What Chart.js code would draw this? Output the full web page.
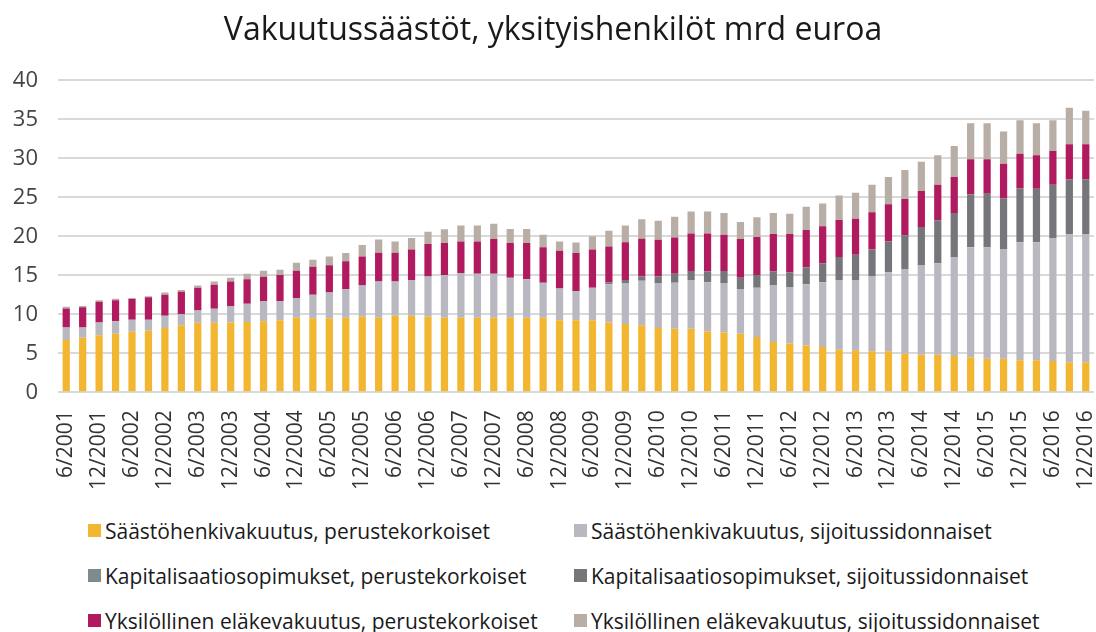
<!DOCTYPE html>
<html>
<head>
<meta charset="utf-8">
<script src="https://cdn.jsdelivr.net/npm/chart.js@4"></script>
<style>
body{margin:0;background:#fff;font-family:"Open Sans",sans-serif;}
#wrap{position:relative;width:1096px;height:632px;}
#chart-box{position:absolute;left:0;top:0;width:1096px;height:508px;}
#legend{position:absolute;left:88px;top:508px;display:grid;grid-template-columns:486px 500px;row-gap:0;}
#legend .item{display:flex;align-items:center;height:45px;font-size:21px;color:#1a1a1a;white-space:nowrap;}
#legend .sw{width:13px;height:13px;margin-right:4px;flex:none;}
</style>
</head>
<body>
<div id="wrap">
  <div id="chart-box"><canvas id="savings-chart"></canvas></div>
  <div id="legend"></div>
</div>
<script>
const quarters=['6/2001','9/2001','12/2001',
 '3/2002','6/2002','9/2002','12/2002','3/2003','6/2003','9/2003','12/2003',
 '3/2004','6/2004','9/2004','12/2004','3/2005','6/2005','9/2005','12/2005',
 '3/2006','6/2006','9/2006','12/2006','3/2007','6/2007','9/2007','12/2007',
 '3/2008','6/2008','9/2008','12/2008','3/2009','6/2009','9/2009','12/2009',
 '3/2010','6/2010','9/2010','12/2010','3/2011','6/2011','9/2011','12/2011',
 '3/2012','6/2012','9/2012','12/2012','3/2013','6/2013','9/2013','12/2013',
 '3/2014','6/2014','9/2014','12/2014','3/2015','6/2015','9/2015','12/2015',
 '3/2016','6/2016','9/2016','12/2016'];
const yTicks=[0,5,10,15,20,25,30,35,40];

const shPerus=[6.7,7.0,7.3,7.5,7.75,7.9,8.25,8.6,8.9,8.9,8.95,9.0,9.1,9.25,9.55,9.5,9.5,9.55,9.7,9.55,9.8,
 9.8,9.7,9.55,9.55,9.55,9.55,9.55,9.55,9.55,9.25,9.25,9.25,8.95,8.75,8.6,8.25,8.15,8.15,7.8,7.65,7.5,
 7.1,6.45,6.25,6.0,5.8,5.45,5.4,5.25,5.25,4.95,4.8,4.8,4.65,4.5,4.3,4.3,4.1,4.1,4.0,3.85,3.85];
const shSij=[1.6,1.3,1.65,1.6,1.55,1.4,1.55,1.4,1.6,1.8,2.1,2.35,2.6,2.45,2.55,3.0,3.3,3.65,4.0,4.65,4.4,
 4.6,5.15,5.5,5.75,5.65,5.65,5.15,4.95,4.5,4.05,3.75,4.15,4.9,5.25,5.7,5.75,5.9,6.25,6.3,6.35,5.75,
 6.3,7.25,7.2,7.85,8.3,8.95,9.0,9.65,10.15,10.85,11.45,11.75,12.65,14.1,14.3,14.0,15.15,15.15,15.8,16.45,16.45];
const kapPerus=[0,0,0,0,0,0,0,0,0,0,0,0,0,0,0,0,0,0,0,0,0,
 0,0,0,0,0,0,0,0,0,0,0,0,0,0,0,0,0,0,0,0,0,
 0,0,0,0,0,0,0,0,0,0,0,0,0,0,0,0,0,0,0,0,0];
const kapSij=[0,0,0,0,0,0,0,0,0,0,0,0,0,0,0,0,0,0,0,0,0,
 0,0,0,0,0,0,0,0,0,0,0,0,0.25,0.4,0.55,0.85,1.15,1.15,1.4,1.55,1.45,
 1.65,1.8,1.9,2.15,2.45,2.95,3.25,3.45,3.95,4.3,4.95,5.5,5.7,6.8,6.85,6.55,6.9,6.85,6.8,7.0,7.0];
const yksPerus=[2.45,2.6,2.65,2.7,2.65,2.9,2.7,2.9,2.9,3.1,3.15,3.15,3.1,3.35,3.5,3.6,3.5,3.6,3.7,3.7,3.7,
 3.9,4.15,4.1,4.05,4.15,4.45,4.45,4.65,4.55,4.85,4.85,4.9,4.6,4.85,4.85,4.7,4.65,4.8,4.85,4.65,4.95,
 4.85,4.8,4.95,4.8,4.75,4.75,4.6,4.75,4.75,4.7,4.6,4.55,4.6,4.5,4.45,4.45,4.45,4.3,4.35,4.5,4.5];
const yksSij=[0.22,0.15,0.2,0.2,0.15,0.1,0.3,0.2,0.3,0.4,0.5,0.7,0.8,0.65,1.0,0.9,1.1,1.05,1.5,1.7,1.45,
 1.5,1.6,1.75,2.05,2.05,1.95,1.8,1.8,1.6,1.2,1.35,1.7,2.0,2.15,2.5,2.45,2.65,2.85,2.85,2.8,2.2,
 2.55,2.7,2.6,3.0,2.9,3.15,3.35,3.5,3.5,3.7,3.75,3.8,4.0,4.6,4.6,4.15,4.3,4.1,3.95,4.7,4.3];

const series=[
  {label:'Säästöhenkivakuutus, perustekorkoiset',data:shPerus,color:'#f3b630'},
  {label:'Säästöhenkivakuutus, sijoitussidonnaiset',data:shSij,color:'#b9b8c1'},
  {label:'Kapitalisaatiosopimukset, perustekorkoiset',data:kapPerus,color:'#7d8b8c'},
  {label:'Kapitalisaatiosopimukset, sijoitussidonnaiset',data:kapSij,color:'#76767a'},
  {label:'Yksilöllinen eläkevakuutus, perustekorkoiset',data:yksPerus,color:'#b01a5e'},
  {label:'Yksilöllinen eläkevakuutus, sijoitussidonnaiset',data:yksSij,color:'#b8aea6'}
];

const font='"Open Sans", sans-serif';
const noPad=s=>{s.paddingLeft=0;s.paddingRight=0;};
const ctx=document.getElementById('savings-chart').getContext('2d');
new Chart(ctx,{
  type:'bar',
  data:{labels:quarters,datasets:series.map(s=>({label:s.label,data:s.data,backgroundColor:s.color,borderWidth:0,barPercentage:0.44,categoryPercentage:1}))},
  options:{
    responsive:true,maintainAspectRatio:false,animation:false,
    layout:{padding:{left:12,right:2,top:0,bottom:8}},
    plugins:{
      legend:{display:false},tooltip:{enabled:false},
      title:{display:true,text:'Vakuutussäästöt, yksityishenkilöt mrd euroa',color:'#1a1a1a',font:{family:font,size:32,weight:'normal'},padding:{top:12,bottom:30}}
    },
    scales:{
      x:{stacked:true,grid:{display:false},border:{display:false},afterFit:noPad,
        ticks:{autoSkip:false,minRotation:90,maxRotation:90,padding:10,color:'#333',font:{family:font,size:21},
          callback:(v,i)=>i%2===0?quarters[i]:''}},
      y:{stacked:true,min:0,max:40,afterBuildTicks:a=>{a.ticks=yTicks.map(v=>({value:v}));},
        afterFit:s=>{s.width=46;},
        grid:{color:'#d9d9d9',lineWidth:2,drawTicks:false},border:{display:false},
        ticks:{padding:20,color:'#444',font:{family:font,size:22}}}
    }
  }
});

const lg=document.getElementById('legend');
series.forEach(s=>{
  lg.insertAdjacentHTML('beforeend',`<div class="item"><span class="sw" style="background:${s.color}"></span>${s.label}</div>`);
});
</script>
</body>
</html>
